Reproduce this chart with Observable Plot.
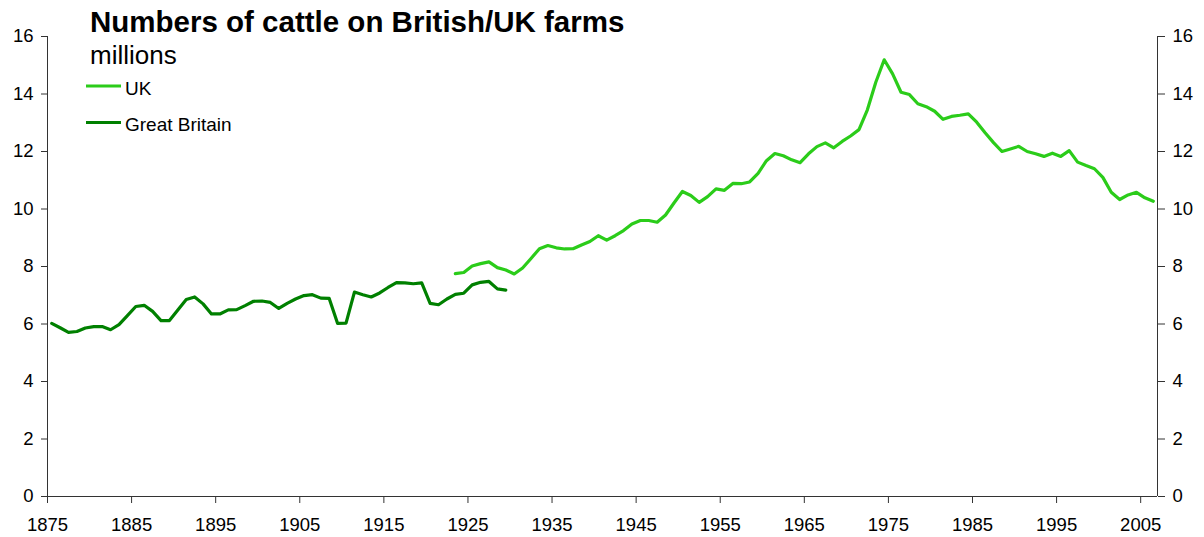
<!DOCTYPE html>
<html>
<head>
<meta charset="utf-8">
<script src="https://cdn.jsdelivr.net/npm/d3@7"></script>
<script src="https://cdn.jsdelivr.net/npm/@observablehq/plot@0.6"></script>
<style>
  html, body { margin: 0; padding: 0; background: #fff; }
  #wrap { position: relative; width: 1204px; height: 537px; font-family: "Liberation Sans", Arial, sans-serif; }
  #overlay { position: absolute; left: 0; top: 0; pointer-events: none; }
</style>
</head>
<body>
<div id="wrap"></div>
<script>
// ---- Data ----
const titleText = "Numbers of cattle on British/UK farms";
const subtitleText = "millions";
const seriesNames = ["UK", "Great Britain"];
const seriesColors = ["#2bcc1a", "#008000"];

const gbYears = d3.range(1875, 1930);
const gbValues = [
  6.02, 5.87, 5.71, 5.74, 5.86, 5.91, 5.91, 5.80, 5.98, 6.29,
  6.61, 6.65, 6.44, 6.12, 6.12, 6.49, 6.85, 6.94, 6.70, 6.35,
  6.35, 6.49, 6.50, 6.64, 6.79, 6.80, 6.75, 6.54, 6.72, 6.87,
  6.99, 7.02, 6.90, 6.89, 6.02, 6.03, 7.11, 7.02, 6.94, 7.08,
  7.27, 7.44, 7.43, 7.40, 7.43, 6.72, 6.67, 6.87, 7.03, 7.07,
  7.36, 7.45, 7.48, 7.22, 7.18
];

const ukYears = d3.range(1923, 2007);
const ukValues = [
  7.75, 7.79, 8.02, 8.10, 8.16, 7.96, 7.88,
  7.74, 7.95, 8.28, 8.62, 8.73, 8.65, 8.61, 8.62, 8.75, 8.87,
  9.07, 8.92, 9.07, 9.25, 9.48, 9.60, 9.60, 9.54, 9.79, 10.21,
  10.61, 10.47, 10.23, 10.43, 10.70, 10.65, 10.89, 10.88, 10.94, 11.24,
  11.68, 11.93, 11.85, 11.71, 11.61, 11.92, 12.17, 12.30, 12.13, 12.35,
  12.54, 12.76, 13.45, 14.41, 15.19, 14.70, 14.06, 13.98, 13.66, 13.56,
  13.40, 13.12, 13.22, 13.26, 13.31, 13.02, 12.65, 12.31, 12.00, 12.09,
  12.18, 12.00, 11.92, 11.83, 11.94, 11.83, 12.03, 11.63, 11.51, 11.40,
  11.10, 10.58, 10.33, 10.49, 10.58, 10.39, 10.27
];

const xTickYears = [1875, 1885, 1895, 1905, 1915, 1925, 1935, 1945, 1955, 1965, 1975, 1985, 1995, 2005];
const yTickValues = [0, 2, 4, 6, 8, 10, 12, 14, 16];
const xDomain = [1875, 2007];
const yDomain = [0, 16];

// ---- Tables ----
const gb = gbYears.map((year, i) => ({year, value: gbValues[i]}));
const uk = ukYears.map((year, i) => ({year, value: ukValues[i]}));

const axisColor = "#333";

const chart = Plot.plot({
  width: 1204,
  height: 537,
  marginLeft: 47,
  marginRight: 47,
  marginTop: 36,
  marginBottom: 41,
  style: { fontFamily: "'Liberation Sans', Arial, sans-serif", fontSize: "18.5px", color: "#000", background: "#fff" },
  x: { domain: xDomain, label: null, axis: null },
  y: { domain: yDomain, label: null, axis: null },
  marks: [
    Plot.axisX(xTickYears, { tickSize: 7, tickPadding: 14, tickFormat: "d", stroke: axisColor, label: null }),
    Plot.axisY(yTickValues, { anchor: "left", tickSize: 6, tickPadding: 8, stroke: axisColor, label: null }),
    Plot.axisY(yTickValues, { anchor: "right", tickSize: 7, tickPadding: 8, stroke: axisColor, label: null }),
    Plot.ruleY([yDomain[0]], { stroke: axisColor }),
    Plot.ruleX(xDomain, { stroke: axisColor }),
    Plot.line(gb, { x: d => d.year + 0.5, y: "value", stroke: seriesColors[1], strokeWidth: 3.2, strokeLinejoin: "round" }),
    Plot.line(uk, { x: d => d.year + 0.5, y: "value", stroke: seriesColors[0], strokeWidth: 3.2, strokeLinejoin: "round" })
  ]
});

const wrap = document.getElementById("wrap");
wrap.appendChild(chart);

// ---- Title, subtitle and legend overlay ----
const ov = d3.select(wrap).append("svg")
  .attr("id", "overlay")
  .attr("width", 1204).attr("height", 537)
  .style("font-family", "'Liberation Sans', Arial, sans-serif");

ov.append("text").attr("x", 90).attr("y", 32)
  .attr("font-size", 29.5).attr("font-weight", "bold").text(titleText);
ov.append("text").attr("x", 90).attr("y", 63.5)
  .attr("font-size", 26).text(subtitleText);

const legendY = [86, 122.5];
seriesNames.forEach((name, i) => {
  ov.append("line").attr("x1", 86).attr("x2", 121)
    .attr("y1", legendY[i]).attr("y2", legendY[i])
    .attr("stroke", seriesColors[i]).attr("stroke-width", 3.2);
  ov.append("text").attr("x", 125).attr("y", legendY[i] + 8.5)
    .attr("font-size", 19).text(name);
});
</script>
</body>
</html>
